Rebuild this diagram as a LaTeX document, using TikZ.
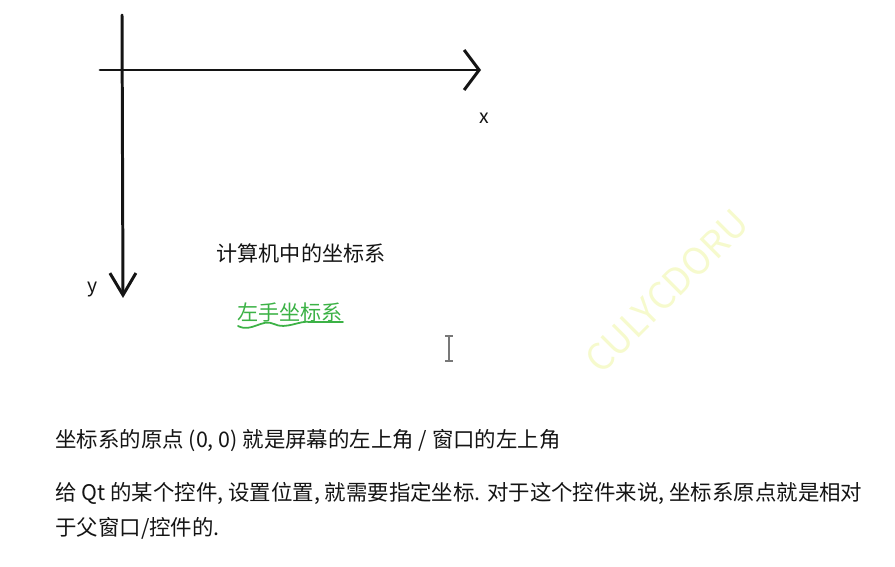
\documentclass[tikz,border=0pt]{standalone}
\usepackage{fontspec}
\setmainfont{Noto Sans CJK SC}
\usetikzlibrary{arrows.meta}
\definecolor{inkB}{RGB}{20,20,20}
\definecolor{hlG}{RGB}{60,178,70}
\definecolor{wmY}{RGB}{246,250,205}
\definecolor{curG}{RGB}{120,120,120}

\begin{document}
\begin{tikzpicture}[
    x=0.02cm, y=-0.02cm,
    axis/.style={draw=inkB, line width=1.7pt, line cap=round},
    lbl/.style={font=\fontsize{11}{13}\selectfont, text=inkB, inner sep=0pt},
    tag/.style={font=\fontsize{12}{14}\selectfont, text=inkB, inner sep=0pt},
    para/.style={font=\fontsize{12.2}{14}\selectfont, text=inkB, inner sep=0pt, anchor=west},
  ]
  \useasboundingbox (0,0) rectangle (895,567);

  %% watermark
  \node[font=\fontsize{21}{24}\selectfont, text=wmY, rotate=45] (wm) at (667,291) {CULYCDORU};

  %% ================= the axes =================
  \coordinate (xs) at (100,70);
  \coordinate (xe) at (481,70);
  \coordinate (ys) at (122,15);
  \coordinate (ye) at (123,298);
  \draw[axis, -{Straight Barb[length=0.3cm, width=0.8cm, line width=1.7pt]}] (xs) -- (xe);
  \draw[axis, -{Straight Barb[length=0.44cm, width=0.52cm, line width=1.7pt]}] (ys) -- (ye);
  \node[lbl] (xl) at (484,118) {x};
  \node[lbl] (yl) at (93,290) {y};

  %% ================= the captions =================
  \node[tag] (cap) at (301,253) {计算机中的坐标系};
  \node[tag, text=hlG] (lh) at (290,312) {左手坐标系};
  \draw[hlG, line width=1pt, line cap=round]
    (238,326) .. controls (252,333) and (262,318) .. (274,324)
    .. controls (286,330) and (300,320) .. (310,322)
    -- (343,322);

  %% text cursor
  \coordinate (ct) at (449,336);
  \coordinate (cb) at (449,361);
  \draw[curG, line width=1.2pt] (ct) -- (cb);
  \draw[curG, line width=1pt] ([xshift=-4*0.02cm]ct) -- ([xshift=4*0.02cm]ct);
  \draw[curG, line width=1pt] ([xshift=-4*0.02cm]cb) -- ([xshift=4*0.02cm]cb);

  %% ================= the notes =================
  \node[para] (n1) at (55,441) {坐标系的原点 (0, 0) 就是屏幕的左上角 / 窗口的左上角};
  \node[para] (n2) at (55,493) {给 Qt 的某个控件, 设置位置, 就需要指定坐标. 对于这个控件来说, 坐标系原点就是相对};
  \node[para] (n3) at (55,528) {于父窗口/控件的.};

\end{tikzpicture}
\end{document}
